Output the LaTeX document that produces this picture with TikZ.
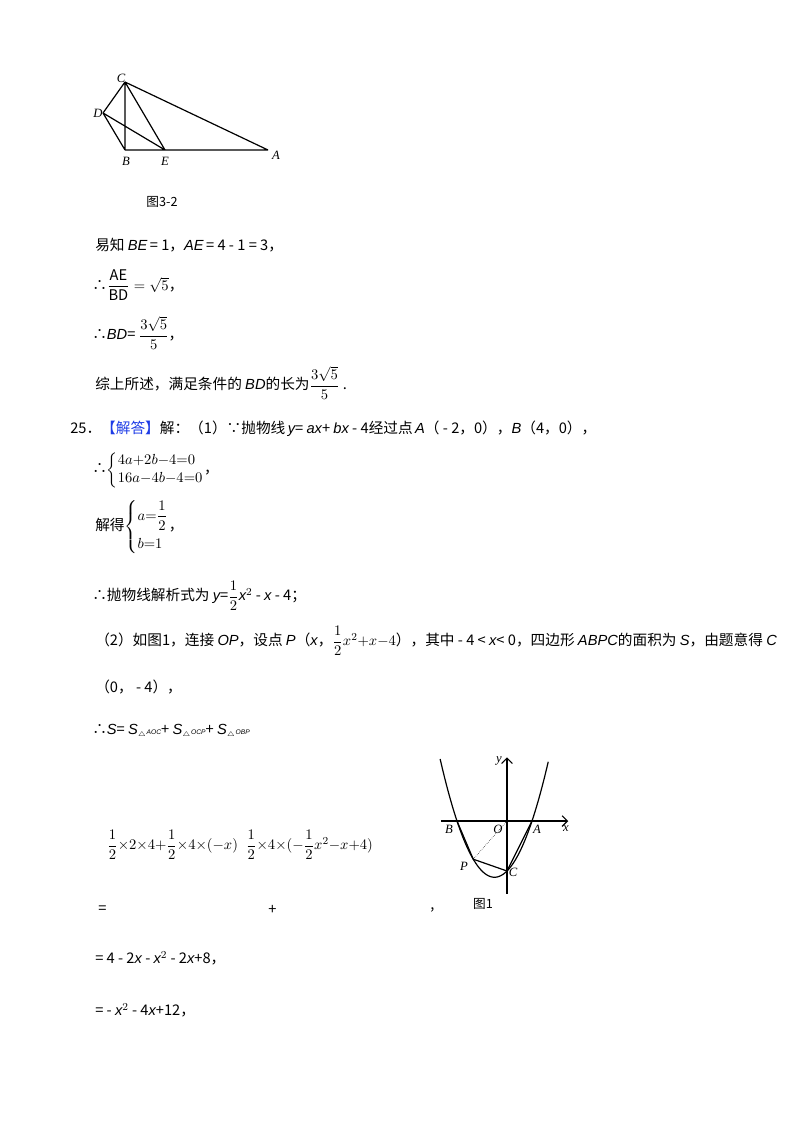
\documentclass[tikz,border=0pt]{standalone}
\usepackage{amsmath}
\usepackage{fontspec}
\setmainfont{Noto Sans CJK SC}
\newfontfamily\lat{Liberation Sans}
\newfontfamily\ser{Liberation Serif}
\usetikzlibrary{arrows.meta}
\definecolor{ansblue}{RGB}{30,60,230}
\newcommand{\vv}[1]{{\lat\itshape #1}}
\begin{document}
\begin{tikzpicture}[x=0.75pt,y=-0.75pt,
  txt/.style={anchor=west,inner sep=0pt,font=\fontsize{11}{13}\selectfont},
  lab/.style={inner sep=0pt,font=\ser\itshape\fontsize{9.5}{10}\selectfont},
  figcap/.style={inner sep=0pt,font=\fontsize{9.5}{11}\selectfont},
  seg/.style={line width=0.9pt}]
\useasboundingbox (0,0) rectangle (800,1132);
% figure 3-2
\coordinate (C) at (125,82); \coordinate (D) at (103,113);
\coordinate (B) at (125,150); \coordinate (E) at (165,150); \coordinate (A) at (268,150);
\draw[seg] (C)--(B) (C)--(A) (C)--(E) (D)--(C) (D)--(B) (D)--(E) (B)--(A);
\node[lab] (lC) at (121,78) {C};
\node[lab] (lD) at (98,113) {D};
\node[lab] (lB) at (126,161) {B};
\node[lab] (lE) at (165,161) {E};
\node[lab] (lA) at (276,155) {A};
\node[figcap] (c32) at (162,202) {图3-2};
% text
\node[txt] (t1) at (95,245) {易知 \vv{BE}\,= 1，\vv{AE}\,= 4 - 1 = 3，};
\node[txt] (t2) at (92,285) {∴$\dfrac{\mathrm{AE}}{\mathrm{BD}}=\sqrt{5}$，};
\node[txt] (t3) at (92,333) {∴\vv{BD}= $\dfrac{3\sqrt{5}}{5}$，};
\node[txt] (t4) at (95,383) {综上所述，满足条件的 \vv{BD}的长为$\dfrac{3\sqrt{5}}{5}$ .};
\node[txt] (t5) at (70,429) {25．\textcolor{ansblue}{【解答】}解：（1）∵抛物线\,\vv{y}= \vv{ax}+ \vv{bx} - 4经过点\,\vv{A}（ - 2，0），\vv{B}（4，0），};
\node[txt] (t6) at (92,470) {∴$\left\{\begin{array}{@{}l@{}}4a{+}2b{-}4{=}0\\ 16a{-}4b{-}4{=}0\end{array}\right.$，};
\node[txt] (t7) at (95,527) {解得$\left\{\begin{array}{@{}l@{}}a{=}\dfrac{1}{2}\\[8pt] b{=}1\end{array}\right.$，};
\node[txt] (t8) at (92,596) {∴抛物线解析式为 \vv{y}=$\dfrac{1}{2}$\vv{x}$^{2}$ - \vv{x} - 4；};
\node[txt] (t9) at (95,641) {（2）如图1，连接 \vv{OP}，设点 \vv{P}（\vv{x}，$\dfrac{1}{2}x^{2}{+}x{-}4$），其中 - 4 < \vv{x}< 0，四边形 \vv{ABPC}的面积为 \vv{S}，由题意得 \vv{C}};
\node[txt] (t10) at (95,687) {（0， - 4），};
\node[txt] (t11) at (92,731) {∴\vv{S}= \vv{S}$_{\scriptscriptstyle\triangle}${\lat\itshape\tiny AOC}+ \vv{S}$_{\scriptscriptstyle\triangle}${\lat\itshape\tiny OCP}+ \vv{S}$_{\scriptscriptstyle\triangle}${\lat\itshape\tiny OBP}};
\node[txt] (t12) at (107,845) {$\dfrac{1}{2}{\times}2{\times}4{+}\dfrac{1}{2}{\times}4{\times}(-x)\;\;\dfrac{1}{2}{\times}4{\times}(-\dfrac{1}{2}x^{2}{-}x{+}4)$};
\node[txt] (t13a) at (98,910) {=};
\node[txt] (t13b) at (268,910) {+};
\node[txt] (t13c) at (430,910) {,};
\node[txt] (t14) at (95,958) {= 4 - 2\vv{x} - \vv{x}$^{2}$ - 2\vv{x}+8，};
\node[txt] (t15) at (95,1010) {= - \vv{x}$^{2}$ - 4\vv{x}+12，};
% figure 1
\begin{scope}[shift={(507,821)},x=9.375pt,y=9.375pt]
\coordinate (O) at (0,0);
\coordinate (xs) at (-5.3,0); \coordinate (xe) at (4.9,0);
\coordinate (ys) at (0,-5.8); \coordinate (ye) at (0,5.1);
\coordinate (PB) at (-4,0); \coordinate (PA) at (2,0);
\coordinate (PC) at (0,-4); \coordinate (PP) at (-2.7,-3.055);
\draw[seg,-{Straight Barb[length=4pt]}] (xs)--(xe);
\draw[seg,-{Straight Barb[length=4pt]}] (ys)--(ye);
\draw[seg,domain=-5.35:3.3,samples=80,smooth] plot (\x,{0.5*\x*\x+\x-4});
\draw[seg] (PB)--(PP)--(PC)--(PA);
\draw[densely dotted] (O)--(PP);
\end{scope}
\node[lab] (ly) at (499,761) {y};
\node[lab] (lx) at (566,829) {x};
\node[lab] (lB2) at (449,829) {B};
\node[lab] (lO) at (498,829) {O};
\node[lab] (lA2) at (537,829) {A};
\node[lab] (lP) at (464,866) {P};
\node[lab] (lC2) at (513,872) {C};
\node[figcap] (c1) at (483,904) {图1};
\end{tikzpicture}
\end{document}
